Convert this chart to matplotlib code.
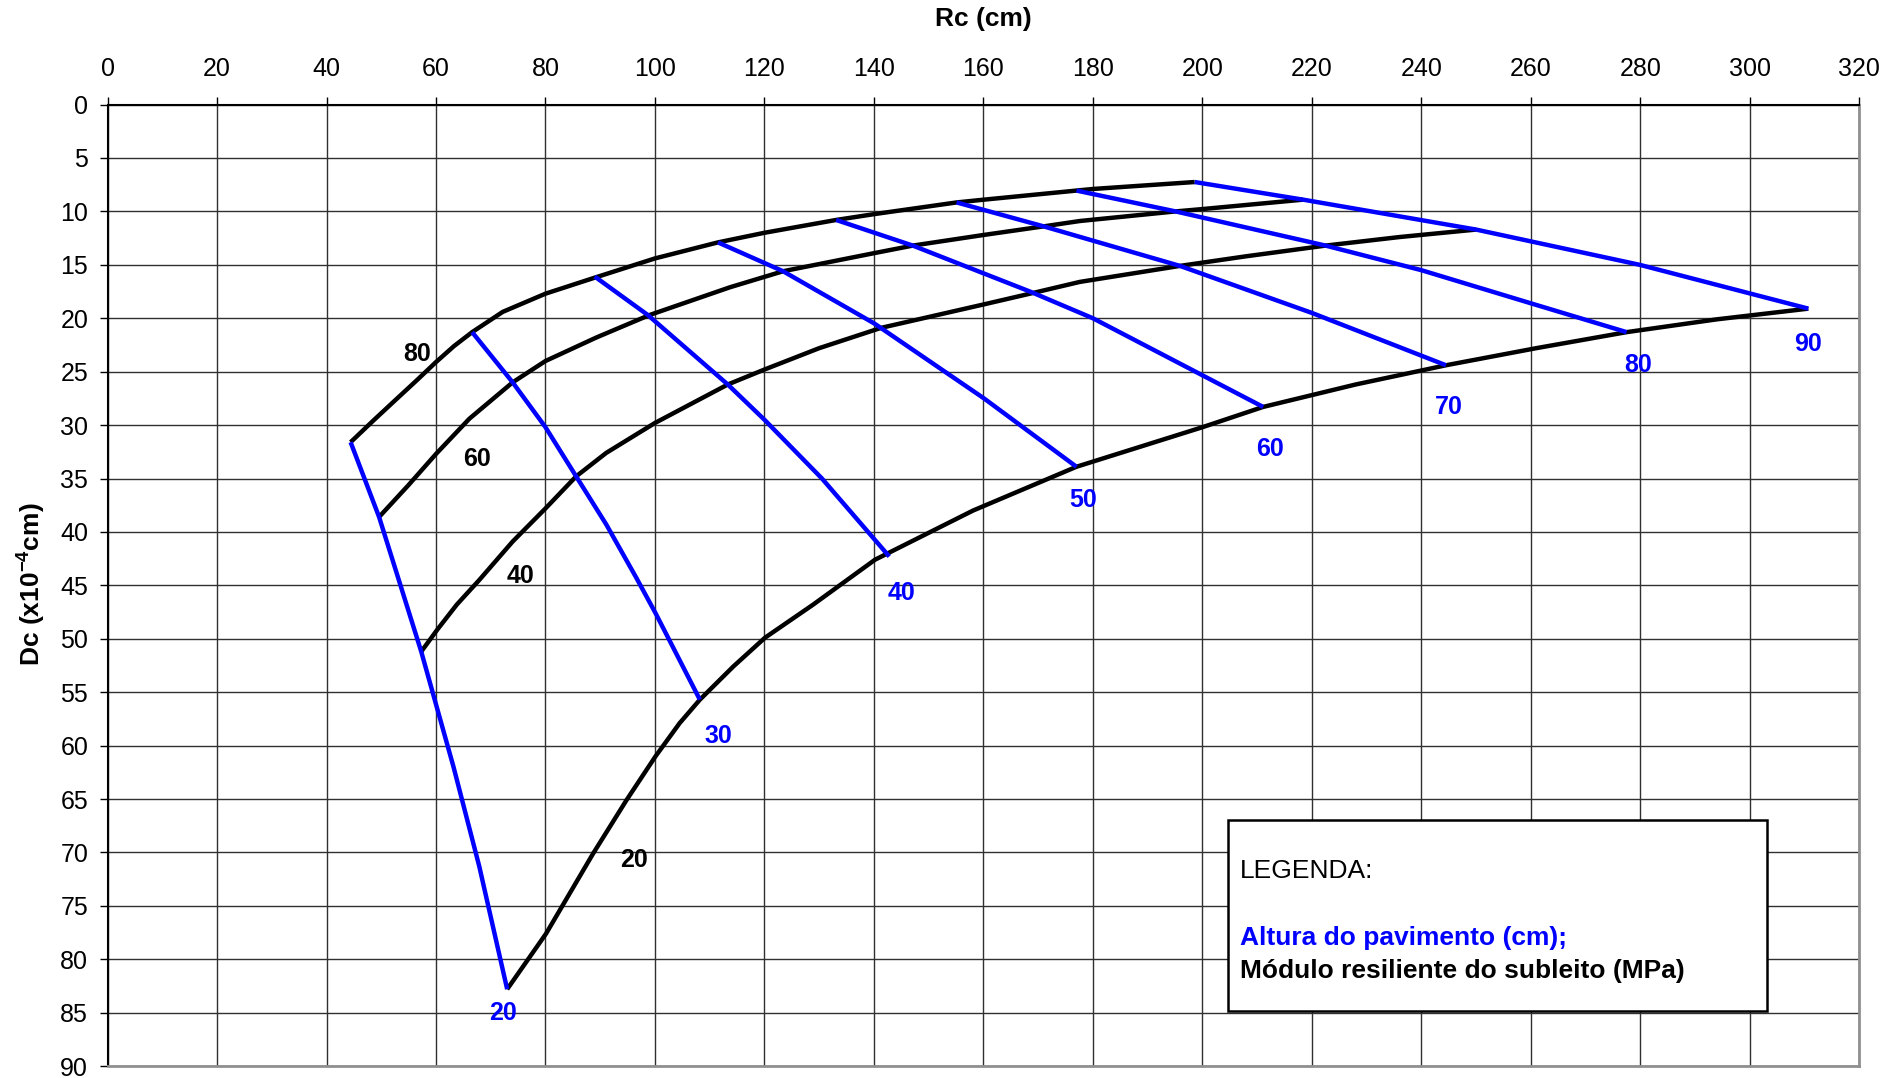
import matplotlib
matplotlib.use("Agg")
import matplotlib.pyplot as plt
from matplotlib.patches import Rectangle

plt.rcParams['font.family'] = ['Liberation Sans', 'DejaVu Sans']
plt.rcParams['mathtext.fontset'] = 'custom'
plt.rcParams['mathtext.rm'] = 'Liberation Sans'
plt.rcParams['mathtext.bf'] = 'Liberation Sans:bold'

# Curvas de módulo resiliente do subleito (MPa) - pretas
mod_labels = [80, 60, 40, 20]
m80_x = [44.4, 48.5, 52.7, 56.5, 60.0, 63.3, 66.6, 72.2, 80.0, 89.0, 100.0, 111.5, 120.0, 133.1, 140.1, 155.1, 160.1, 177.0, 180.0, 198.6]
m80_y = [31.6, 29.6, 27.6, 25.8, 24.1, 22.6, 21.3, 19.4, 17.7, 16.2, 14.4, 12.9, 12.0, 10.8, 10.25, 9.16, 8.9, 8.05, 7.9, 7.25]
m60_x = [49.6, 55.0, 60.0, 66.1, 74.0, 80.0, 89.3, 99.0, 113.7, 123.4, 140.1, 147.1, 160.1, 171.0, 177.6, 195.1, 199.6, 218.4]
m60_y = [38.6, 35.6, 32.7, 29.4, 26.0, 24.0, 21.8, 19.7, 17.1, 15.6, 13.9, 13.2, 12.2, 11.4, 10.9, 10.0, 9.8, 8.9]
m40_x = [57.3, 60.3, 63.8, 67.9, 74.0, 80.0, 85.6, 91.1, 100.0, 113.3, 120.0, 130.0, 141.3, 160.1, 168.5, 177.6, 195.9, 208.0, 222.5, 236.0, 250.0]
m40_y = [51.2, 49.1, 46.8, 44.5, 40.9, 37.8, 34.8, 32.6, 29.8, 26.2, 24.8, 22.8, 20.9, 18.7, 17.7, 16.6, 15.1, 14.2, 13.2, 12.4, 11.7]
m20_x = [73.0, 80.1, 88.7, 94.8, 100.1, 104.5, 108.2, 114.3, 120.1, 128.9, 140.2, 158.1, 177.0, 200.0, 211.1, 228.0, 244.5, 261.0, 277.5, 294.0, 310.7]
m20_y = [82.8, 77.6, 70.1, 65.1, 61.0, 57.9, 55.7, 52.6, 49.9, 46.8, 42.6, 38.0, 33.9, 30.2, 28.3, 26.2, 24.4, 22.8, 21.3, 20.1, 19.1]

# Linhas de altura do pavimento (cm) - azuis
h_labels = [20, 30, 40, 50, 60, 70, 80, 90]
h20_x = [44.4, 49.6, 57.3, 63.2, 67.9, 73.0]
h20_y = [31.6, 38.6, 51.2, 62.0, 71.3, 82.8]
h30_x = [66.6, 74.0, 80.0, 85.6, 91.1, 96.6, 100.1, 108.2]
h30_y = [21.3, 26.0, 30.2, 34.8, 39.3, 44.3, 47.6, 55.7]
h40_x = [89.0, 98.7, 113.3, 120.0, 130.5, 142.8]
h40_y = [16.1, 19.7, 26.2, 29.5, 35.0, 42.3]
h50_x = [111.5, 123.4, 140.1, 160.1, 177.0]
h50_y = [12.9, 15.6, 20.5, 27.5, 33.9]
h60_x = [133.1, 147.1, 168.5, 180.0, 211.1]
h60_y = [10.8, 13.2, 17.5, 20.0, 28.3]
h70_x = [155.1, 171.0, 195.9, 220.0, 244.5]
h70_y = [9.16, 11.4, 15.1, 19.5, 24.4]
h80_x = [177.0, 195.1, 222.5, 240.0, 260.0, 277.5]
h80_y = [8.05, 10.0, 13.2, 15.5, 18.6, 21.3]
h90_x = [198.6, 218.4, 250.0, 279.9, 310.7]
h90_y = [7.25, 8.9, 11.7, 15.0, 19.1]

# Posições dos rótulos
mod_lab_x = [56.5, 67.4, 75.4, 96.2]
mod_lab_y = [23.3, 33.2, 44.1, 70.7]
h_lab_x = [72.3, 111.5, 145.0, 178.3, 212.4, 245.0, 279.6, 310.6]
h_lab_y = [85.0, 59.1, 45.7, 37.0, 32.2, 28.3, 24.4, 22.4]

fig = plt.figure(figsize=(19.04, 10.78), dpi=100)
ax = fig.add_axes([0.0565, 0.011, 0.9200, 0.892])

blue = '#0000ff'
for xs, ys in [(m80_x, m80_y), (m60_x, m60_y), (m40_x, m40_y), (m20_x, m20_y)]:
    ax.plot(xs, ys, color='black', lw=3.2, solid_joinstyle='round', solid_capstyle='butt', zorder=3)
for xs, ys in [(h20_x, h20_y), (h30_x, h30_y), (h40_x, h40_y), (h50_x, h50_y),
               (h60_x, h60_y), (h70_x, h70_y), (h80_x, h80_y), (h90_x, h90_y)]:
    ax.plot(xs, ys, color=blue, lw=3.2, solid_joinstyle='round', solid_capstyle='butt', zorder=4)

for lab, x, y in zip(mod_labels, mod_lab_x, mod_lab_y):
    ax.text(x, y, str(lab), color='black', fontsize=18, fontweight='bold', ha='center', va='center')
for lab, x, y in zip(h_labels, h_lab_x, h_lab_y):
    ax.text(x, y, str(lab), color=blue, fontsize=18, fontweight='bold', ha='center', va='center')

ax.set_xlim(0, 320)
ax.set_ylim(90, 0)
ax.set_xticks(range(0, 321, 20))
ax.set_yticks(range(0, 91, 5))
ax.xaxis.tick_top()
ax.tick_params(labelsize=18, length=6, width=1, colors='black')
ax.tick_params(axis='x', pad=11)
ax.tick_params(axis='y', pad=8)
ax.grid(True, color='#303030', lw=1)
ax.set_axisbelow(True)
for s in ['top', 'left']:
    ax.spines[s].set_linewidth(1.5)
    ax.spines[s].set_color('black')
for s in ['bottom', 'right']:
    ax.spines[s].set_linewidth(2)
    ax.spines[s].set_color('#909090')

fig.text(0.5166, 0.982, 'Rc (cm)', fontsize=19, fontweight='bold', ha='center', va='center')
fig.text(0.0158, 0.458, 'Dc (x10$^{\\mathbf{-4}}$cm)', fontsize=19, fontweight='bold',
         ha='center', va='center', rotation=90)

# Legenda
ax.add_patch(Rectangle((204.7, 67.0), 98.5, 17.8, facecolor='white', edgecolor='black', lw=1.8, zorder=5))
ax.text(206.9, 71.7, 'LEGENDA:', fontsize=19, color='black', va='center', ha='left', zorder=6)
ax.text(206.9, 78.0, 'Altura do pavimento (cm);', fontsize=19, color=blue, fontweight='bold', va='center', ha='left', zorder=6)
ax.text(206.9, 81.1, 'Módulo resiliente do subleito (MPa)', fontsize=19, color='black', fontweight='bold', va='center', ha='left', zorder=6)

fig.savefig('out.png', dpi=100)
